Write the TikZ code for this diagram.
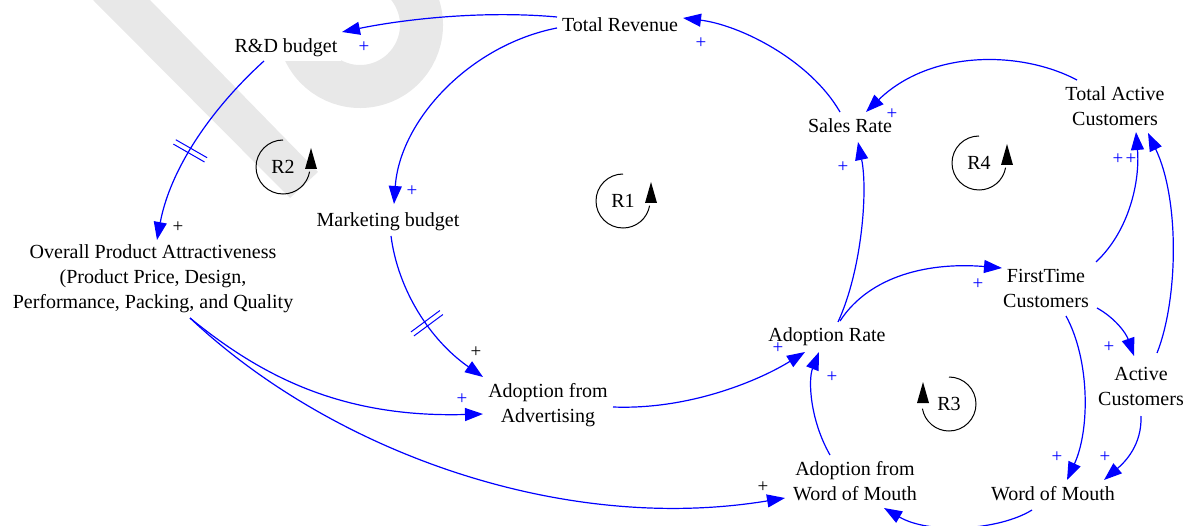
\documentclass[tikz,border=0pt]{standalone}
\usepackage{fontspec}
\setmainfont{Liberation Serif}
\usetikzlibrary{arrows.meta,decorations.markings}
\definecolor{linkblue}{RGB}{0,0,255}
\definecolor{wmgray}{RGB}{232,232,232}
\begin{document}
\begin{tikzpicture}[x=1pt,y=-1pt,
  var/.style={align=center,inner sep=0pt,font=\fontsize{20}{25}\selectfont},
  link/.style={draw=linkblue,line width=1.2pt,-{Triangle[length=18pt,width=13pt]}},
  pol/.style={inner sep=0pt,text=linkblue,font=\fontsize{19}{19}\selectfont},
  polk/.style={pol,text=black},
  delaymark/.style={postaction={decorate},decoration={markings,mark=at position #1 with {\draw[-,draw=linkblue,line width=1pt] (-2.5,-18)--(-2.5,18) (2.5,-18)--(2.5,18);}}},
  loopline/.style={draw=black,line width=1pt},
]
\useasboundingbox (0,0) rectangle (1193,526);

% faint background mark
\begin{scope}
  \clip (0,0) rectangle (1193,526);
  \fill[wmgray] (93,0) -- (150,0) -- (318,172) -- (290,198) -- cycle;
  \draw[wmgray,line width=43pt] (360,25) ++(165:61.5) arc[start angle=165,end angle=-100,radius=61.5];
\end{scope}

% variables
\node[var] (tr)  at (620,25)   {Total Revenue};
\node[var,fill=white,inner sep=4pt] (rd) at (286,48) {R\&D budget};
\node[var] (mb)  at (388,222)  {Marketing budget};
\node[var] (opa) at (153,279)  {Overall Product Attractiveness\\(Product Price, Design,\\Performance, Packing, and Quality};
\node[var] (afa) at (548,405)  {Adoption from\\Advertising};
\node[var] (ar)  at (827,337)  {Adoption Rate};
\node[var] (sr)  at (850,126)  {Sales Rate};
\node[var] (tac) at (1115,106) {Total Active\\Customers};
\node[var] (ftc) at (1046,288) {FirstTime\\Customers};
\node[var] (ac)  at (1141,386) {Active\\Customers};
\node[var] (afw) at (855,481)  {Adoption from\\Word of Mouth};
\node[var] (wom) at (1053,494) {Word of Mouth};

% causal links
\draw[link] ([shift={(-63,-8)}]tr.center) .. controls (480,10) and (400,20) .. ([shift={(56,-16)}]rd.center);
\draw[link] ([shift={(-63,3)}]tr.center) .. controls (470,45) and (400,120) .. ([shift={(6,-18)}]mb.center);
\draw[link] ([shift={(-10,-14)}]sr.center) .. controls (810,60) and (740,25) .. ([shift={(63,-7)}]tr.center);
\draw[link] ([shift={(11,-15)}]ar.center) .. controls (862,270) and (868,190) .. ([shift={(8,16)}]sr.center);
\draw[link] ([shift={(-38,-26)}]tac.center) .. controls (1020,50) and (930,50) .. ([shift={(16,-14)}]sr.center);
\draw[link] ([shift={(13,-16)}]ar.center) .. controls (870,275) and (930,262) .. ([shift={(-44,-20)}]ftc.center);
\draw[link] ([shift={(50,-26)}]ftc.center) .. controls (1130,230) and (1140,180) .. ([shift={(21,26)}]tac.center);
\draw[link] ([shift={(16,-33)}]ac.center) .. controls (1178,300) and (1180,200) .. ([shift={(33,27)}]tac.center);
\draw[link] ([shift={(51,20)}]ftc.center) .. controls (1115,318) and (1126,333) .. ([shift={(-7,-30)}]ac.center);
\draw[link] ([shift={(20,28)}]ftc.center) .. controls (1090,360) and (1090,430) .. ([shift={(14,-14)}]wom.center);
\draw[link] ([shift={(0,30)}]ac.center) .. controls (1142,445) and (1125,462) .. ([shift={(51,-14)}]wom.center);
\draw[link] ([shift={(-21,16)}]wom.center) .. controls (1000,530) and (930,535) .. ([shift={(29,27)}]afw.center);
\draw[link] ([shift={(-25,-26)}]afw.center) .. controls (810,420) and (808,380) .. ([shift={(-8,15)}]ar.center);
\draw[link] ([shift={(65,2)}]afa.center) .. controls (690,410) and (760,380) .. ([shift={(-22,15)}]ar.center);
\draw[link,delaymark=0.55] ([shift={(3,14)}]mb.center) .. controls (398,290) and (430,340) .. ([shift={(-65,-28)}]afa.center);
\draw[link,delaymark=0.55] ([shift={(-22,13)}]rd.center) .. controls (210,110) and (170,170) .. ([shift={(4,-39)}]opa.center);
\draw[link] ([shift={(37,39)}]opa.center) .. controls (260,375) and (340,418) .. ([shift={(-65,9)}]afa.center);
\draw[link] ([shift={(37,39)}]opa.center) .. controls (330,450) and (560,535) .. ([shift={(-70,17)}]afw.center);

% polarities
\node[pol]  (p1)  at (364,47)  {+};
\node[pol]  (p2)  at (701,43)  {+};
\node[pol]  (p3)  at (412,191) {+};
\node[pol]  (p4)  at (892,114) {+};
\node[pol]  (p5)  at (843,167) {+};
\node[pol]  (p6)  at (1118,159) {+};
\node[pol]  (p7)  at (1131,159) {+};
\node[pol]  (p8)  at (978,284) {+};
\node[pol]  (p9)  at (1109,347) {+};
\node[pol]  (p10) at (1057,457) {+};
\node[pol]  (p11) at (1105,457) {+};
\node[pol]  (p12) at (778,348) {+};
\node[pol]  (p13) at (832,377) {+};
\node[pol]  (p14) at (462,399) {+};
\node[polk] (p15) at (178,227) {+};
\node[polk] (p16) at (476,352) {+};
\node[polk] (p17) at (763,487) {+};

% loop markers
\node[var] (r1) at (623,201) {R1};
\draw[loopline] ([shift={(0,-27)}]r1.center) arc[start angle=270,end angle=10,radius=27];
\fill ([shift={(22,2)}]r1.center) -- ++(12,0) -- ++(-6,-21) -- cycle;

\node[var] (r2) at (283,167) {R2};
\draw[loopline] ([shift={(0,-27)}]r2.center) arc[start angle=270,end angle=10,radius=27];
\fill ([shift={(22,2)}]r2.center) -- ++(12,0) -- ++(-6,-21) -- cycle;

\node[var] (r4) at (979,163) {R4};
\draw[loopline] ([shift={(0,-27)}]r4.center) arc[start angle=270,end angle=10,radius=27];
\fill ([shift={(22,2)}]r4.center) -- ++(12,0) -- ++(-6,-21) -- cycle;

\node[var] (r3) at (949,404) {R3};
\draw[loopline] ([shift={(0,-27)}]r3.center) arc[start angle=270,end angle=530,radius=27];
\fill ([shift={(-32,-1)}]r3.center) -- ++(12,0) -- ++(-6,-21) -- cycle;
\end{tikzpicture}
\end{document}
